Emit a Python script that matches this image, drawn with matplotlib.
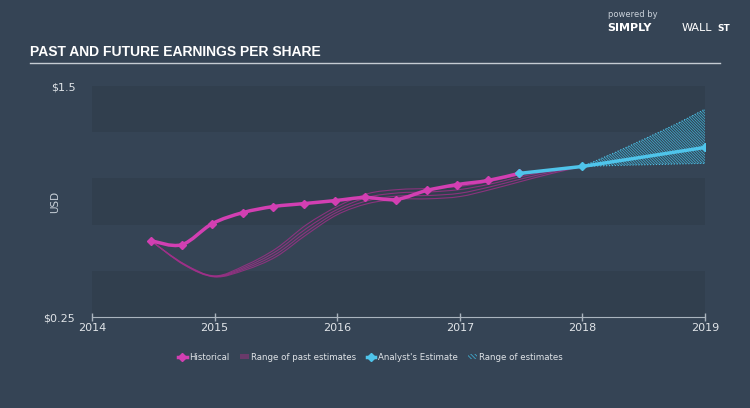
import matplotlib.pyplot as plt
import numpy as np
from matplotlib.lines import Line2D
from matplotlib.patches import Patch, PathPatch
from matplotlib.path import Path

plt.rcParams['hatch.linewidth'] = 0.6

# historical EPS (quarterly)
hist_x = [2014.48, 2014.73, 2014.98, 2015.23, 2015.48, 2015.73, 2015.98,
          2016.23, 2016.48, 2016.73, 2016.98, 2017.23, 2017.48]
hist_y = [0.663, 0.641, 0.755, 0.815, 0.848, 0.864, 0.880,
          0.897, 0.886, 0.935, 0.967, 0.989, 1.027]

# analyst estimate
est_x = [2017.48, 2018.0, 2019.0]
est_y = [1.027, 1.065, 1.168]

# range of future estimates
rng_x = [2018.0, 2018.25, 2018.5, 2018.75, 2019.0]
rng_hi = [1.065, 1.136, 1.212, 1.290, 1.375]
rng_lo = [1.065, 1.070, 1.074, 1.078, 1.082]

# past estimate curves
past_x = [2014.48, 2014.75, 2015.0, 2015.25, 2015.5, 2015.75, 2016.0,
          2016.25, 2016.5, 2016.75, 2017.0, 2017.25, 2017.5, 2017.75, 2018.0]
past_curves = [
    [0.663, 0.532, 0.467, 0.505, 0.576, 0.696, 0.804, 0.864, 0.888, 0.890, 0.902, 0.940, 0.984, 1.027, 1.065],
    [0.663, 0.534, 0.469, 0.513, 0.590, 0.712, 0.818, 0.880, 0.905, 0.908, 0.920, 0.955, 0.997, 1.035, 1.065],
    [0.663, 0.536, 0.471, 0.521, 0.605, 0.730, 0.832, 0.898, 0.922, 0.927, 0.940, 0.970, 1.010, 1.042, 1.065],
    [0.663, 0.538, 0.473, 0.530, 0.620, 0.750, 0.848, 0.918, 0.940, 0.946, 0.957, 0.984, 1.022, 1.049, 1.065],
]

bg = '#354455'
dark = '#313f4e'
mag = '#d23fb2'
cyan = '#4fc4ea'
txt = '#c9d1d9'


def smooth_path(xs, ys):
    # catmull-rom through the points, drawn as cubic bezier segments
    pts = np.column_stack([xs, ys])
    verts = [pts[0]]
    codes = [Path.MOVETO]
    n = len(pts)
    for i in range(n - 1):
        p0 = pts[max(i - 1, 0)]
        p1 = pts[i]
        p2 = pts[i + 1]
        p3 = pts[min(i + 2, n - 1)]
        c1 = p1 + (p2 - p0) / 6
        c2 = p2 - (p3 - p1) / 6
        verts += [c1, c2, p2]
        codes += [Path.CURVE4] * 3
    return Path(verts, codes)


fig = plt.figure(figsize=(7.5, 4.08), dpi=100, facecolor=bg)
ax = fig.add_axes([0.1227, 0.223, 0.8173, 0.566])
ax.set_facecolor(bg)

bands = [0.25, 0.5, 0.75, 1.0, 1.25, 1.5]
for i in range(5):
    ax.axhspan(bands[i], bands[i + 1], color=dark if i % 2 == 0 else bg, lw=0, zorder=0)

for c in past_curves:
    ax.add_patch(PathPatch(smooth_path(past_x, c), facecolor='none',
                           edgecolor='#a03089', lw=0.8, alpha=0.8, zorder=2))

ax.fill_between(rng_x, rng_lo, rng_hi, facecolor='none', edgecolor='#3fa9cc',
                hatch='\\\\\\\\\\\\\\\\\\\\\\\\', lw=0, zorder=2)
ax.add_patch(PathPatch(smooth_path(rng_x, rng_hi), facecolor='none', edgecolor=cyan,
                       lw=0.8, ls=':', zorder=2))
ax.plot(rng_x, rng_lo, color=cyan, lw=0.8, ls=':', zorder=2)
ax.plot([2019, 2019], [rng_lo[-1], rng_hi[-1]], color=cyan, lw=0.8, ls=':', zorder=2)

ax.add_patch(PathPatch(smooth_path(hist_x, hist_y), facecolor='none', edgecolor=mag,
                       lw=2.5, zorder=4))
ax.plot(hist_x, hist_y, ls='none', color=mag, marker='D', ms=4.5, zorder=4)
ax.plot(est_x, est_y, color=cyan, lw=2.5, marker='D', ms=4.5, zorder=5)

ax.set_xlim(2014, 2019)
ax.set_ylim(0.25, 1.5)
ax.set_xticks([2014, 2015, 2016, 2017, 2018, 2019])
ax.set_xticklabels(['2014', '2015', '2016', '2017', '2018', '2019'])
ax.set_yticks([0.25, 1.5])
ax.set_yticklabels(['$0.25', '$1.5'])
ax.tick_params(axis='x', colors='#aab4be', labelcolor='#e0e4e8', length=6, width=1,
               direction='inout', labelsize=8, pad=1)
ax.tick_params(axis='y', length=0, labelcolor='#e0e4e8', labelsize=8, pad=12)
for s in ['top', 'right', 'left']:
    ax.spines[s].set_visible(False)
ax.spines['bottom'].set_color('#aab4be')
ax.set_ylabel('USD', color=txt, fontsize=7.5)
ax.yaxis.set_label_coords(-0.052, 0.5)

fig.text(0.04, 1 - 52 / 408, 'PAST AND FUTURE EARNINGS PER SHARE', color='white',
         fontsize=10, fontweight='bold', family=['Liberation Sans Narrow', 'Liberation Sans'],
         va='center')
fig.add_artist(Line2D([0.04, 0.96], [1 - 63 / 408] * 2, color='#c5ccd3', lw=1))

fig.text(0.81, 1 - 17 / 408, 'powered by', color='#c9d1d9', fontsize=6)
fig.text(0.81, 1 - 31 / 408, 'SIMPLY', color='white', fontsize=8, fontweight='bold')
fig.text(0.909, 1 - 31 / 408, 'WALL', color='white', fontsize=8)
fig.text(0.957, 1 - 31 / 408, 'ST', color='white', fontsize=6.5, fontweight='bold')

handles = [
    Line2D([], [], color=mag, lw=2.5, marker='D', ms=4.5),
    Patch(facecolor='#6a3a6a', edgecolor='none'),
    Line2D([], [], color=cyan, lw=2.5, marker='D', ms=4.5),
    Patch(facecolor='none', edgecolor='#3fa9cc', hatch='\\\\\\\\\\\\\\\\', lw=0),
]
labels = ['Historical', 'Range of past estimates', "Analyst's Estimate", 'Range of estimates']
fig.legend(handles, labels, loc='center', bbox_to_anchor=(0.494, 1 - 357 / 408),
           ncol=4, frameon=False, fontsize=6.2, handlelength=1.0, handleheight=0.6,
           handletextpad=0.3, columnspacing=1.2, labelcolor='#e0e4e8')

plt.savefig('out.png', dpi=100, facecolor=bg)
